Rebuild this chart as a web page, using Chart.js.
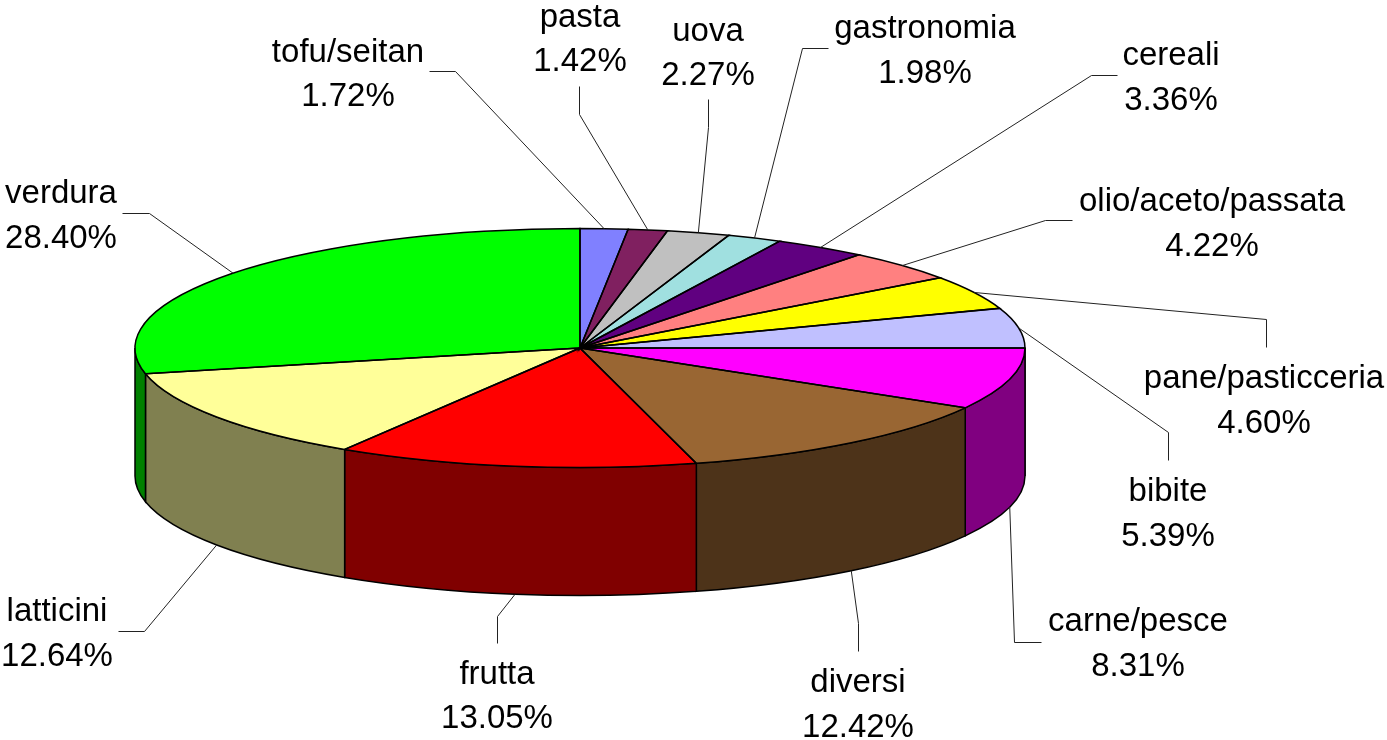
<!DOCTYPE html>
<html>
<head>
<meta charset="utf-8">
<title>Spesa per categoria</title>
<script src="https://cdn.jsdelivr.net/npm/chart.js@4/dist/chart.umd.min.js"></script>
<style>
html, body { margin: 0; padding: 0; background: #fff; }
canvas { display: block; }
</style>
</head>
<body>
<canvas id="myChart" width="1387" height="740"></canvas>
<script>
var categories = ['tofu/seitan', 'pasta', 'uova', 'gastronomia', 'cereali', 'olio/aceto/passata', 'pane/pasticceria', 'bibite', 'carne/pesce', 'diversi', 'frutta', 'latticini', 'verdura'];
var values = [1.72, 1.42, 2.27, 1.98, 3.36, 4.22, 4.60, 5.39, 8.31, 12.42, 13.05, 12.64, 28.40];
var topColors = ['#8080ff', '#802060', '#c0c0c0', '#a0e0e0', '#600080', '#ff8080', '#ffff00', '#c0c0ff', '#ff00ff', '#996633', '#ff0000', '#ffff99', '#00ff00'];
var sideColors = ['#404080', '#401030', '#606060', '#507070', '#300040', '#804040', '#808000', '#606080', '#800080', '#4d3319', '#800000', '#808050', '#008000'];

// where the pie sits on the page
var pieX = 580, pieY = 348, pieRx = 445, pieRy = 119.5, pieDepth = 128;

// label centre x, baseline of the name, baseline of the percentage
var labelX = [348, 580, 708, 925, 1171, 1212, 1264, 1168, 1138, 858, 497, 57, 61];
var nameY = [62, 27, 41, 38, 65, 211, 388, 501, 631, 692, 684, 621, 203];
var percentY = [106, 71, 85, 83, 110, 256, 433, 546, 676, 737, 728, 666, 248];

// leader lines: free end, then elbow, the slice end comes from the arc angle
var leaderStart = [[429, 71], [579, 86], [708, 99], [828, 48], [1117, 75], [1072, 220], [1266, 347], [1168, 460], [1041, 642], [858, 651], [497, 643], [118, 631], [122, 213]];
var leaderElbow = [[455, 71], [579, 114], [708, 127], [802, 48], [1091, 75], [1045, 220], [1266, 319], [1168, 432], [1014, 642], [858, 623], [497, 616], [144, 631], [149, 213]];

var pie3d = {
    id: 'pie3d',
    beforeDatasetsDraw: function (chart) {
        var ctx = chart.ctx;
        var arcs = chart.getDatasetMeta(0).data;
        ctx.save();
        ctx.lineWidth = 1.5;
        ctx.strokeStyle = '#000';
        $each(arcs, function (arc, i) {
            var a0 = Math.max(arc.startAngle, 0);
            var a1 = Math.min(arc.endAngle, Math.PI);
            if (a1 <= a0) return;
            ctx.beginPath();
            ctx.ellipse(pieX, pieY, pieRx, pieRy, 0, a0, a1);
            ctx.ellipse(pieX, pieY + pieDepth, pieRx, pieRy, 0, a1, a0, true);
            ctx.closePath();
            ctx.fillStyle = sideColors[i];
            ctx.fill();
            ctx.stroke();
        });
        ctx.restore();

        // squash the round pie from Chart.js into the top ellipse
        var r = arcs[0].outerRadius;
        ctx.save();
        ctx.translate(pieX, pieY);
        ctx.scale(pieRx / r, pieRy / r);
        ctx.translate(-arcs[0].x, -arcs[0].y);
    },
    afterDatasetsDraw: function (chart) {
        var ctx = chart.ctx;
        var arcs = chart.getDatasetMeta(0).data;
        ctx.restore();

        ctx.save();
        ctx.lineWidth = 1.5;
        ctx.strokeStyle = '#000';
        $each(arcs, function (arc) {
            ctx.beginPath();
            ctx.moveTo(pieX, pieY);
            ctx.ellipse(pieX, pieY, pieRx, pieRy, 0, arc.startAngle, arc.endAngle);
            ctx.closePath();
            ctx.stroke();
        });

        ctx.lineWidth = 1;
        ctx.strokeStyle = '#222';
        $each(arcs, function (arc, i) {
            var mid = (arc.startAngle + arc.endAngle) / 2;
            var endX = pieX + pieRx * Math.cos(mid);
            var endY = pieY + pieRy * Math.sin(mid);
            if (Math.sin(mid) > 0) endY += pieDepth;
            ctx.beginPath();
            ctx.moveTo(leaderStart[i][0] + 0.5, leaderStart[i][1] + 0.5);
            ctx.lineTo(leaderElbow[i][0] + 0.5, leaderElbow[i][1] + 0.5);
            ctx.lineTo(endX, endY);
            ctx.stroke();
        });

        ctx.fillStyle = '#000';
        ctx.font = '33px "Liberation Sans", Arial, sans-serif';
        ctx.textAlign = 'center';
        ctx.textBaseline = 'alphabetic';
        $each(categories, function (name, i) {
            ctx.fillText(name, labelX[i], nameY[i]);
            ctx.fillText(values[i].toFixed(2) + '%', labelX[i], percentY[i]);
        });
        ctx.restore();
    }
};

function $each(list, fn) {
    for (var i = 0; i < list.length; i++) {
        fn(list[i], i);
    }
}

var ctx = document.getElementById('myChart').getContext('2d');
var myChart = new Chart(ctx, {
    type: 'pie',
    data: {
        labels: categories,
        datasets: [{
            data: values,
            backgroundColor: topColors,
            borderWidth: 0
        }]
    },
    options: {
        responsive: false,
        animation: false,
        plugins: {
            legend: { display: false },
            tooltip: { enabled: false }
        }
    },
    plugins: [pie3d]
});
</script>
</body>
</html>
